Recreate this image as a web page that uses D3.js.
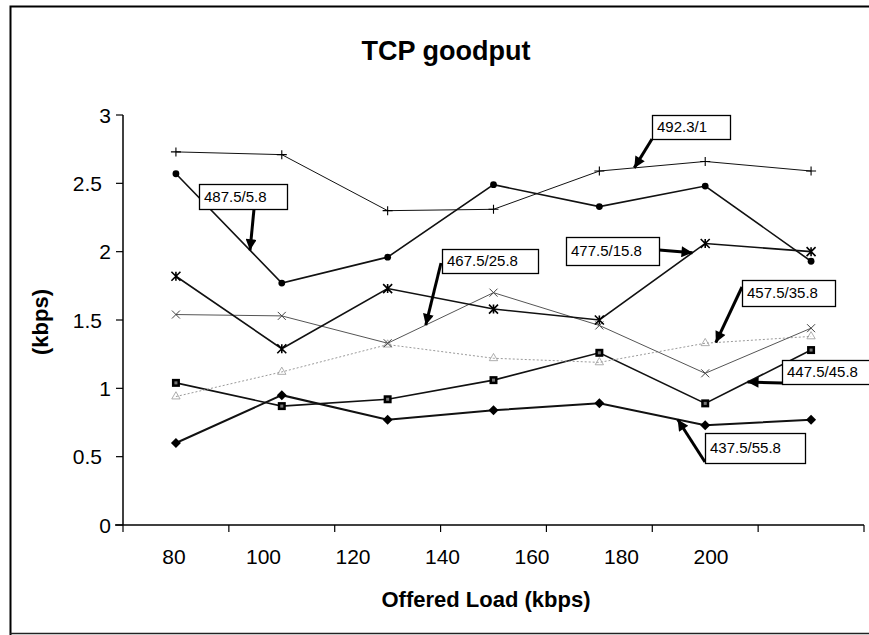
<!DOCTYPE html>
<html>
<head>
<meta charset="utf-8">
<script src="https://cdn.jsdelivr.net/npm/d3@7"></script>
<style>
  html, body { margin: 0; padding: 0; background: #fff; }
  svg { display: block; font-family: Arial, "Liberation Sans", Helvetica, sans-serif; }
</style>
</head>
<body>
<svg id="chart" width="869" height="635"></svg>
<script>
// Offered-load categories (seven runs) and the labels printed under the axis
const categories = [0, 1, 2, 3, 4, 5, 6];
const xTickLabels = ["80", "100", "120", "140", "160", "180", "200"];
const yTicks = [0, 0.5, 1, 1.5, 2, 2.5, 3];

// TCP goodput (kbps) per configuration
const s492_3_1    = [2.73, 2.71, 2.30, 2.31, 2.59, 2.66, 2.59];
const s487_5_5_8  = [2.57, 1.77, 1.96, 2.49, 2.33, 2.48, 1.93];
const s477_5_15_8 = [1.82, 1.29, 1.73, 1.58, 1.50, 2.06, 2.00];
const s467_5_25_8 = [1.54, 1.53, 1.33, 1.70, 1.46, 1.11, 1.44];
const s457_5_35_8 = [0.94, 1.12, 1.32, 1.22, 1.19, 1.33, 1.38];
const s447_5_45_8 = [1.04, 0.87, 0.92, 1.06, 1.26, 0.89, 1.28];
const s437_5_55_8 = [0.60, 0.95, 0.77, 0.84, 0.89, 0.73, 0.77];

const series = [
  { name: "492.3/1",    values: s492_3_1,    marker: "plus",     stroke: "#111", width: 1,   dash: null },
  { name: "487.5/5.8",  values: s487_5_5_8,  marker: "circle",   stroke: "#111", width: 1.6, dash: null },
  { name: "477.5/15.8", values: s477_5_15_8, marker: "asterisk", stroke: "#111", width: 1.6, dash: null },
  { name: "467.5/25.8", values: s467_5_25_8, marker: "x",        stroke: "#555", width: 1,   dash: null },
  { name: "457.5/35.8", values: s457_5_35_8, marker: "triangle", stroke: "#9a9a9a", width: 1, dash: "2,2" },
  { name: "447.5/45.8", values: s447_5_45_8, marker: "square",   stroke: "#111", width: 1.6, dash: null },
  { name: "437.5/55.8", values: s437_5_55_8, marker: "diamond",  stroke: "#111", width: 2,   dash: null }
];

// Callouts: box placement, where the arrow leaves the box, and the point on
// the series line it points to (segment index + fraction along it)
const callouts = [
  { series: "487.5/5.8",  box: [199, 184, 88, 25],  from: [254, 209], seg: 0, t: 0.70 },
  { series: "492.3/1",    box: [652, 115, 78, 24],  from: [652, 139], seg: 4, t: 0.33 },
  { series: "477.5/15.8", box: [566, 237, 93, 28],  from: [659, 250], seg: 4, t: 0.88 },
  { series: "467.5/25.8", box: [442, 249, 96, 24],  from: [441, 263], seg: 2, t: 0.36 },
  { series: "457.5/35.8", box: [742, 280, 93, 26],  from: [742, 287], seg: 5, t: 0.10 },
  { series: "447.5/45.8", box: [782, 360, 92, 24],  from: [782, 383], seg: 5, t: 0.40 },
  { series: "437.5/55.8", box: [705, 433, 100, 30], from: [705, 462], seg: 4, t: 0.74 }
];

const svg = d3.select("#chart");
const plot = { left: 123, right: 864, top: 115, bottom: 525 };

// Outer frame
svg.append("path")
  .attr("d", "M10.5,635 L10.5,6.5 L869,6.5")
  .attr("fill", "none").attr("stroke", "#000").attr("stroke-width", 2);
svg.append("line")
  .attr("x1", 10).attr("x2", 869).attr("y1", 633.5).attr("y2", 633.5)
  .attr("stroke", "#222").attr("stroke-width", 1.5);

// Arrowhead marker
svg.append("defs").append("marker")
  .attr("id", "head")
  .attr("viewBox", "0 0 10 10")
  .attr("refX", 10).attr("refY", 5)
  .attr("markerUnits", "userSpaceOnUse")
  .attr("markerWidth", 15).attr("markerHeight", 11)
  .attr("orient", "auto")
  .append("path").attr("d", "M0,0 L10,5 L0,10 Z").attr("fill", "#000");

// Scales
const x = d3.scaleBand().domain(categories).range([plot.left, plot.right]).padding(0);
const cx = i => x(i) + x.bandwidth() / 2;
const y = d3.scaleLinear().domain([0, 3]).range([plot.bottom, plot.top]);
const xLabel = d3.scalePoint().domain(xTickLabels).range([174, 711]);

// Title
svg.append("text")
  .attr("x", 446).attr("y", 60)
  .attr("text-anchor", "middle")
  .attr("font-size", 27).attr("font-weight", "bold")
  .text("TCP goodput");

// Y axis
const yAxis = svg.append("g").attr("transform", `translate(${plot.left},0)`);
yAxis.append("line").attr("x1", 0).attr("x2", 0).attr("y1", y(3)).attr("y2", y(0))
  .attr("stroke", "#000").attr("stroke-width", 1.5);
yAxis.selectAll("line.tick").data(yTicks).join("line")
  .attr("class", "tick")
  .attr("x1", -7).attr("x2", 0)
  .attr("y1", d => y(d)).attr("y2", d => y(d))
  .attr("stroke", "#000").attr("stroke-width", 1.2);
yAxis.selectAll("text").data(yTicks).join("text")
  .attr("x", d => Number.isInteger(d) ? -12 : -21)
  .attr("y", d => y(d))
  .attr("dy", "0.36em")
  .attr("text-anchor", "end")
  .attr("font-size", 21)
  .text(d => String(d));

svg.append("text")
  .attr("transform", "translate(48,322) rotate(-90)")
  .attr("text-anchor", "middle")
  .attr("font-size", 22).attr("font-weight", "bold")
  .text("(kbps)");

// X axis
const xAxis = svg.append("g").attr("transform", `translate(0,${plot.bottom})`);
xAxis.append("line").attr("x1", plot.left - 8).attr("x2", plot.right).attr("y1", 0).attr("y2", 0)
  .attr("stroke", "#000").attr("stroke-width", 1.5);
const xTickPos = categories.map(c => x(c)).concat([plot.right]);
xAxis.selectAll("line.tick").data(xTickPos).join("line")
  .attr("class", "tick")
  .attr("x1", d => d).attr("x2", d => d)
  .attr("y1", 0).attr("y2", 7)
  .attr("stroke", "#000").attr("stroke-width", 1.2);
xAxis.selectAll("text").data(xTickLabels).join("text")
  .attr("x", d => xLabel(d))
  .attr("y", 39)
  .attr("text-anchor", "middle")
  .attr("font-size", 21)
  .text(d => d);

svg.append("text")
  .attr("x", 486).attr("y", 607)
  .attr("text-anchor", "middle")
  .attr("font-size", 22).attr("font-weight", "bold")
  .text("Offered Load (kbps)");

// Series lines
const line = d3.line().x((d, i) => cx(i)).y(d => y(d));
const gSeries = svg.append("g");
series.slice().reverse().forEach(s => {
  const g = gSeries.append("g");
  g.append("path")
    .datum(s.values)
    .attr("d", line)
    .attr("fill", "none")
    .attr("stroke", s.stroke)
    .attr("stroke-width", s.width)
    .attr("stroke-dasharray", s.dash);

  const pts = g.selectAll("g.pt").data(s.values).join("g")
    .attr("class", "pt")
    .attr("transform", (d, i) => `translate(${cx(i)},${y(d)})`);

  switch (s.marker) {
    case "circle":
      pts.append("circle").attr("r", 3.4).attr("fill", "#000");
      break;
    case "square":
      pts.append("rect").attr("x", -4).attr("y", -4).attr("width", 8).attr("height", 8).attr("fill", "#000");
      pts.append("rect").attr("x", -1.5).attr("y", -1.5).attr("width", 3).attr("height", 3).attr("fill", "#777");
      break;
    case "diamond":
      pts.append("path").attr("d", "M0,-5 L5,0 L0,5 L-5,0 Z").attr("fill", "#000");
      break;
    case "triangle":
      pts.append("path").attr("d", d3.symbol(d3.symbolTriangle, 30))
        .attr("fill", "none").attr("stroke", "#999").attr("stroke-width", 0.8);
      break;
    case "plus":
      pts.append("path").attr("d", "M-5,0 L5,0 M0,-4.5 L0,4.5")
        .attr("stroke", "#000").attr("stroke-width", 1.1);
      break;
    case "x":
      pts.append("path").attr("d", "M-4,-4 L4,4 M-4,4 L4,-4")
        .attr("stroke", "#444").attr("stroke-width", 1);
      break;
    case "asterisk":
      pts.append("path").attr("d", "M-4.5,-4.5 L4.5,4.5 M-4.5,4.5 L4.5,-4.5 M0,-4.5 L0,4.5")
        .attr("stroke", "#000").attr("stroke-width", 1.6);
      break;
  }
});

// Callout boxes with arrows
const byName = new Map(series.map(s => [s.name, s]));
const gCallouts = svg.append("g");
callouts.forEach(c => {
  const s = byName.get(c.series);
  const x0 = cx(c.seg), x1 = cx(c.seg + 1);
  const y0 = y(s.values[c.seg]), y1 = y(s.values[c.seg + 1]);
  const tipX = x0 + (x1 - x0) * c.t;
  const tipY = y0 + (y1 - y0) * c.t;

  gCallouts.append("line")
    .attr("x1", c.from[0]).attr("y1", c.from[1])
    .attr("x2", tipX).attr("y2", tipY)
    .attr("stroke", "#000").attr("stroke-width", 3)
    .attr("marker-end", "url(#head)");

  const [bx, by, bw, bh] = c.box;
  gCallouts.append("rect")
    .attr("x", bx + 0.5).attr("y", by + 0.5)
    .attr("width", bw).attr("height", bh)
    .attr("fill", "#fff").attr("stroke", "#000").attr("stroke-width", 1.3);
  gCallouts.append("text")
    .attr("x", bx + 5).attr("y", by + bh / 2)
    .attr("dy", "0.36em")
    .attr("font-size", 15)
    .text(c.series);
});
</script>
</body>
</html>
